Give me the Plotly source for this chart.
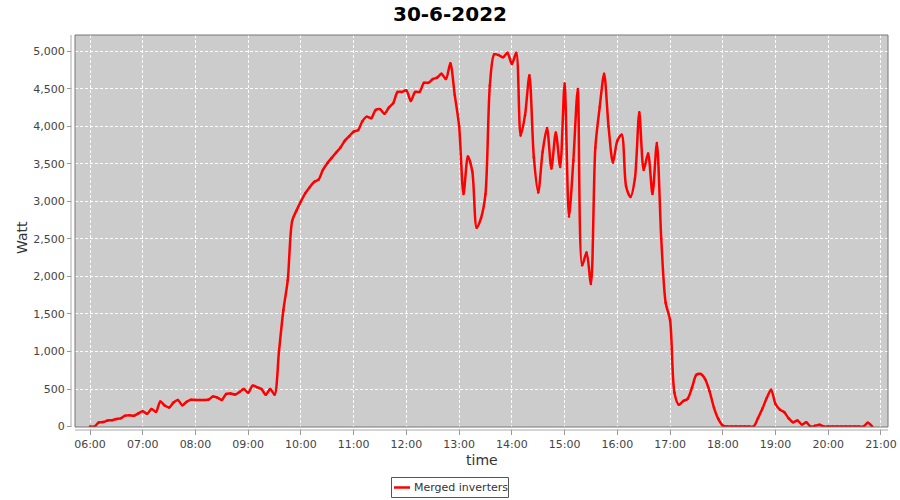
import plotly.graph_objects as go
import pandas as pd

title_text = "30-6-2022"
series_name = "Merged inverters"
x_title = "time"
y_title = "Watt"
start_time = "2022-06-30 06:00"
step = "5min"

watt_06 = [0, 0, 55, 60, 80, 85, 100, 110, 145, 150, 145, 175]
watt_07 = [205, 170, 235, 195, 335, 280, 255, 320, 355, 285, 330, 356]
watt_08 = [355, 355, 355, 360, 400, 385, 355, 435, 440, 427, 460, 500]
watt_09 = [450, 545, 525, 500, 425, 500, 425, 1000, 1550, 1950, 2740, 2880]
watt_10 = [3000, 3110, 3190, 3260, 3290, 3420, 3510, 3580, 3650, 3720, 3810, 3870]
watt_11 = [3930, 3950, 4070, 4130, 4110, 4220, 4230, 4170, 4250, 4310, 4460, 4460]
watt_12 = [4480, 4340, 4460, 4460, 4580, 4580, 4630, 4650, 4700, 4630, 4840, 4420]
watt_13 = [4000, 3100, 3600, 3400, 2650, 2780, 3100, 4550, 4960, 4950, 4920, 4980]
watt_14 = [4830, 4980, 3880, 4150, 4680, 3590, 3120, 3660, 3980, 3440, 3920, 3460]
watt_15 = [4570, 2800, 3550, 4500, 2150, 2320, 1900, 3720, 4260, 4700, 4000, 3520]
watt_16 = [3810, 3890, 3200, 3060, 3300, 4190, 3420, 3640, 3100, 3780, 2500, 1650]
watt_17 = [1420, 450, 290, 340, 370, 520, 690, 700, 630, 470, 250, 100]
watt_18 = [15, 0, 0, 0, 0, 0, 0, 0, 110, 236, 380, 490]
watt_19 = [300, 225, 190, 110, 57, 80, 27, 57, 0, 10, 25, 0]
watt_20 = [0, 0, 0, 0, 0, 0, 0, 0, 0, 50, 0]

watts = (watt_06 + watt_07 + watt_08 + watt_09 + watt_10 + watt_11 + watt_12 +
         watt_13 + watt_14 + watt_15 + watt_16 + watt_17 + watt_18 + watt_19 + watt_20)
times = pd.date_range(start_time, periods=len(watts), freq=step)

y_ticks = [0, 500, 1000, 1500, 2000, 2500, 3000, 3500, 4000, 4500, 5000]
y_tick_text = ["0", "500", "1,000", "1,500", "2,000", "2,500", "3,000", "3,500", "4,000", "4,500", "5,000"]

FONT = "DejaVu Sans"
LINE_COLOR = "#ff0000"
W, H = 900, 500
ML, MR, MT, MB = 75, 12, 35, 73
PW = W - ML - MR
PH = H - MT - MB


def px(x):
    return (x - ML) / PW


def py(y):
    return 1 - (y - MT) / PH


fig = go.Figure()
fig.add_trace(go.Scatter(
    x=times, y=watts, mode="lines+markers", name=series_name,
    line=dict(color=LINE_COLOR, width=2.5, shape="spline", smoothing=0.8),
    marker=dict(color=LINE_COLOR, size=2.5),
))

grid = dict(showgrid=True, gridcolor="#ffffff", gridwidth=1, griddash="3px,2px", zeroline=False)

fig.update_layout(
    width=W, height=H,
    margin=dict(l=ML, r=MR, t=MT, b=MB, autoexpand=False),
    paper_bgcolor="#ffffff", plot_bgcolor="#cccccc",
    font=dict(family=FONT, size=11, color="#444444"),
    title=dict(text="<b>" + title_text + "</b>", x=0.5, xanchor="center", y=1 - 14 / H,
               yanchor="middle", font=dict(family=FONT, size=20, color="#000000")),
    showlegend=False,
    xaxis=dict(
        type="date", automargin=False,
        range=["2022-06-30 05:42:55", "2022-06-30 21:08:00"],
        dtick=3600000, tickformat="%H:%M", tick0="2022-06-30 06:00",
        ticks="outside", ticklen=7, tickcolor="#999999", tickwidth=1,
        tickfont=dict(family=FONT, size=11, color="#444444"),
        showline=False, **grid,
    ),
    yaxis=dict(
        automargin=False,
        range=[-6, 5218],
        tickvals=y_ticks, ticktext=y_tick_text,
        ticks="outside", ticklen=7, tickcolor="#999999", tickwidth=1,
        tickfont=dict(family=FONT, size=11, color="#444444"),
        showline=False, **grid,
    ),
)

fig.add_annotation(text=x_title, xref="paper", yref="paper", x=0.5, y=py(460),
                   xanchor="center", yanchor="middle", showarrow=False,
                   font=dict(family=FONT, size=14, color="#333333"))
fig.add_annotation(text=y_title, xref="paper", yref="paper", x=px(22), y=py(237),
                   xanchor="center", yanchor="middle", showarrow=False, textangle=-90,
                   font=dict(family=FONT, size=14, color="#333333"))

# cover inner portion of ticks to mimic offset axes
fig.add_shape(type="rect", xref="paper", yref="paper", layer="above",
              x0=px(71.4), x1=px(74.4), y0=py(433), y1=1.0,
              line=dict(width=0), fillcolor="#ffffff")
fig.add_shape(type="rect", xref="paper", yref="paper", layer="above",
              x0=px(68), x1=1.0, y0=py(429.6), y1=py(427.6),
              line=dict(width=0), fillcolor="#ffffff")
# offset axis lines
fig.add_shape(type="line", xref="paper", yref="paper", layer="above",
              x0=px(71), x1=px(71), y0=0, y1=1, line=dict(color="#aaaaaa", width=1))
fig.add_shape(type="line", xref="paper", yref="paper", layer="above",
              x0=0, x1=1, y0=py(430), y1=py(430), line=dict(color="#aaaaaa", width=1))
# plot border
fig.add_shape(type="rect", xref="paper", yref="paper", layer="above",
              x0=0, x1=1, y0=0, y1=1, line=dict(color="#777777", width=1))

# legend box (JFreeChart style)
fig.add_shape(type="rect", xref="paper", yref="paper", layer="above",
              x0=px(391.5), x1=px(508.5), y0=py(497.5), y1=py(477.5),
              line=dict(color="#555555", width=1), fillcolor="#ffffff")
fig.add_shape(type="line", xref="paper", yref="paper", layer="above",
              x0=px(394), x1=px(410), y0=py(487.5), y1=py(487.5),
              line=dict(color=LINE_COLOR, width=2.5))
fig.add_annotation(text=series_name, xref="paper", yref="paper", x=px(412), y=py(487.5),
                   xanchor="left", yanchor="middle", showarrow=False,
                   font=dict(family=FONT, size=11, color="#333333"))

fig.write_html("out.html", config={"displayModeBar": False},
               post_script="document.body.style.margin='0';document.body.style.overflow='hidden';")
